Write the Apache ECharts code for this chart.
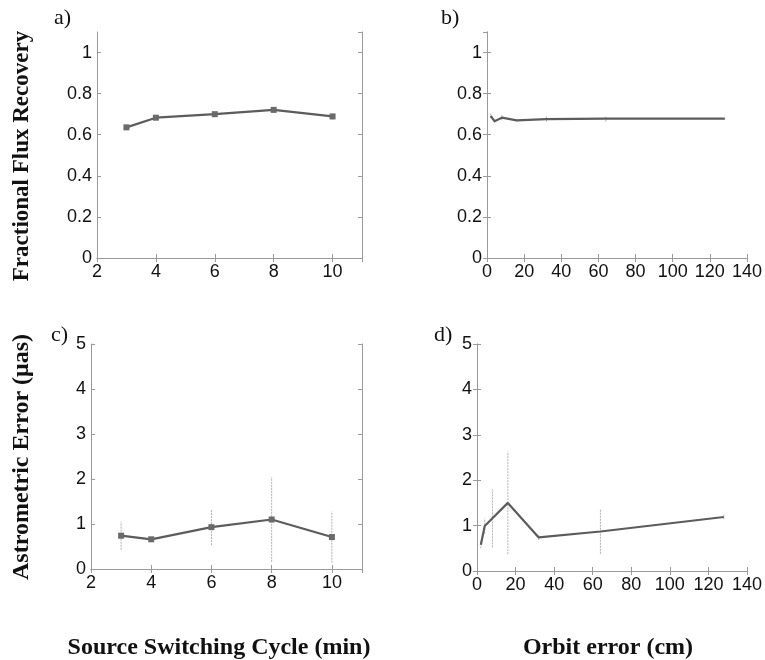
<!DOCTYPE html>
<html><head><meta charset="utf-8">
<script src="https://cdn.jsdelivr.net/npm/echarts@6/dist/echarts.min.js"></script>
<style>html,body{margin:0;padding:0;background:#fff}#c{width:765px;height:660px}</style>
</head><body><div id="c"></div>
<script>
// Panel a: Fractional flux recovery vs source switching cycle (min)
const aX = [3, 4, 6, 8, 10];
const aY = [0.636, 0.683, 0.700, 0.721, 0.689];
const aErr = [0.01, 0.012, 0.015, 0.012, 0.015];
// Panel b: Fractional flux recovery vs orbit error (cm)
const bX = [2, 4, 8, 16, 32, 64, 128];
const bY = [0.692, 0.666, 0.683, 0.670, 0.676, 0.678, 0.678];
const bErr = [0.012, 0.008, 0.012, 0.006, 0.012, 0.014, 0.006];
// Panel c: Astrometric error vs source switching cycle (min)
const cX = [3, 4, 6, 8, 10];
const cY = [0.74, 0.66, 0.93, 1.10, 0.71];
const cErr = [0.31, 0.04, 0.40, 0.94, 0.57];
// Panel d: Astrometric error vs orbit error (cm)
const dX = [2, 4, 8, 16, 32, 64, 128];
const dY = [0.58, 0.99, 1.16, 1.50, 0.74, 0.87, 1.19];
const dErr = [0.08, 0.17, 0.64, 1.13, 0.06, 0.49, 0.05];

const panelLabels = ['a)', 'b)', 'c)', 'd)'];
const yTitles = ['Fractional Flux Recovery', 'Astrometric Error (\u03bcas)'];
const xTitles = ['Source Switching Cycle (min)', 'Orbit error (cm)'];

const chart = echarts.init(document.getElementById('c'), null, {renderer: 'canvas'});

const grids = [
  {left: 97, top: 32, width: 265, height: 226},
  {left: 487, top: 32, width: 261, height: 226},
  {left: 91, top: 344, width: 271, height: 225},
  {left: 477, top: 344, width: 271, height: 227}
];
const xRanges = [[2, 11, 2], [0, 140, 20], [2, 11, 2], [0, 140, 20]];
const yRanges = [[0, 1.1, 0.2], [0, 1.1, 0.2], [0, 5, 1], [0, 5, 1]];
const labelFont = {fontFamily: 'Liberation Sans, Arial, sans-serif', fontSize: 18, color: '#111'};
const axisCol = '#9a9a9a';

const xAxes = [], yAxes = [];
grids.forEach((g, i) => {
  const xr = xRanges[i], yr = yRanges[i];
  const base = {
    type: 'value', gridIndex: i, min: xr[0], max: xr[1], interval: xr[2],
    axisLine: {show: true, lineStyle: {color: axisCol, width: 1}},
    axisTick: {show: true, inside: true, length: 4, lineStyle: {color: axisCol}},
    splitLine: {show: false}
  };
  xAxes.push(Object.assign({}, base, {position: 'bottom',
    axisLabel: Object.assign({margin: 5, showMaxLabel: (i % 2) === 1}, labelFont)}));
  xAxes.push(Object.assign({}, base, {position: 'top', axisLabel: {show: false}}));
  const ybase = {
    type: 'value', gridIndex: i, min: yr[0], max: yr[1], interval: yr[2],
    axisLine: {show: true, lineStyle: {color: axisCol, width: 1}},
    axisTick: {show: true, inside: true, length: 4, lineStyle: {color: axisCol}},
    splitLine: {show: false}
  };
  yAxes.push(Object.assign({}, ybase, {position: 'left',
    axisLabel: Object.assign({margin: 5, showMaxLabel: i >= 2}, labelFont)}));
  yAxes.push(Object.assign({}, ybase, {position: 'right', axisLabel: {show: false}}));
});

function errRender(params, api) {
  const x = api.value(0), lo = api.value(1), hi = api.value(2);
  const p1 = api.coord([x, lo]), p2 = api.coord([x, hi]);
  return {type: 'line', shape: {x1: p1[0], y1: p1[1], x2: p2[0], y2: p2[1]},
    style: {stroke: '#b0b0b0', lineWidth: 1, lineDash: [2, 1]}};
}

const panels = [[aX, aY, aErr, true], [bX, bY, bErr, false], [cX, cY, cErr, true], [dX, dY, dErr, false]];
const series = [];
panels.forEach((p, i) => {
  const [xs, ys, es, markers] = p;
  series.push({
    type: 'custom', xAxisIndex: 2 * i, yAxisIndex: 2 * i, renderItem: errRender,
    data: xs.map((x, k) => [x, ys[k] - es[k], ys[k] + es[k]]), silent: true, z: 1
  });
  series.push({
    type: 'line', xAxisIndex: 2 * i, yAxisIndex: 2 * i,
    data: xs.map((x, k) => [x, ys[k]]),
    lineStyle: {color: '#5c5c5c', width: 2.2},
    itemStyle: {color: '#6a6a6a'},
    symbol: markers ? 'rect' : 'none', symbolSize: 6, showSymbol: markers,
    silent: true, animation: false, z: 3
  });
});

const serif = 'Liberation Serif, Times New Roman, serif';
const graphics = [
  {type: 'text', left: 54, top: 7, style: {text: panelLabels[0], font: '22px ' + serif, fill: '#111'}},
  {type: 'text', left: 441, top: 7, style: {text: panelLabels[1], font: '22px ' + serif, fill: '#111'}},
  {type: 'text', left: 51, top: 324, style: {text: panelLabels[2], font: '22px ' + serif, fill: '#111'}},
  {type: 'text', left: 434, top: 324, style: {text: panelLabels[3], font: '22px ' + serif, fill: '#111'}},
  {type: 'text', x: 22, y: 156, rotation: Math.PI / 2,
    style: {text: yTitles[0], font: 'bold 23px ' + serif, fill: '#111', align: 'center', verticalAlign: 'middle'}},
  {type: 'text', x: 22, y: 457, rotation: Math.PI / 2,
    style: {text: yTitles[1], font: 'bold 24px ' + serif, fill: '#111', align: 'center', verticalAlign: 'middle'}},
  {type: 'text', x: 219, y: 648,
    style: {text: xTitles[0], font: 'bold 24px ' + serif, fill: '#111', align: 'center', verticalAlign: 'middle'}},
  {type: 'text', x: 608, y: 648,
    style: {text: xTitles[1], font: 'bold 24px ' + serif, fill: '#111', align: 'center', verticalAlign: 'middle'}}
];

chart.setOption({
  animation: false,
  backgroundColor: '#fff',
  grid: grids,
  xAxis: xAxes,
  yAxis: yAxes,
  series: series,
  graphic: graphics
});
</script></body></html>
